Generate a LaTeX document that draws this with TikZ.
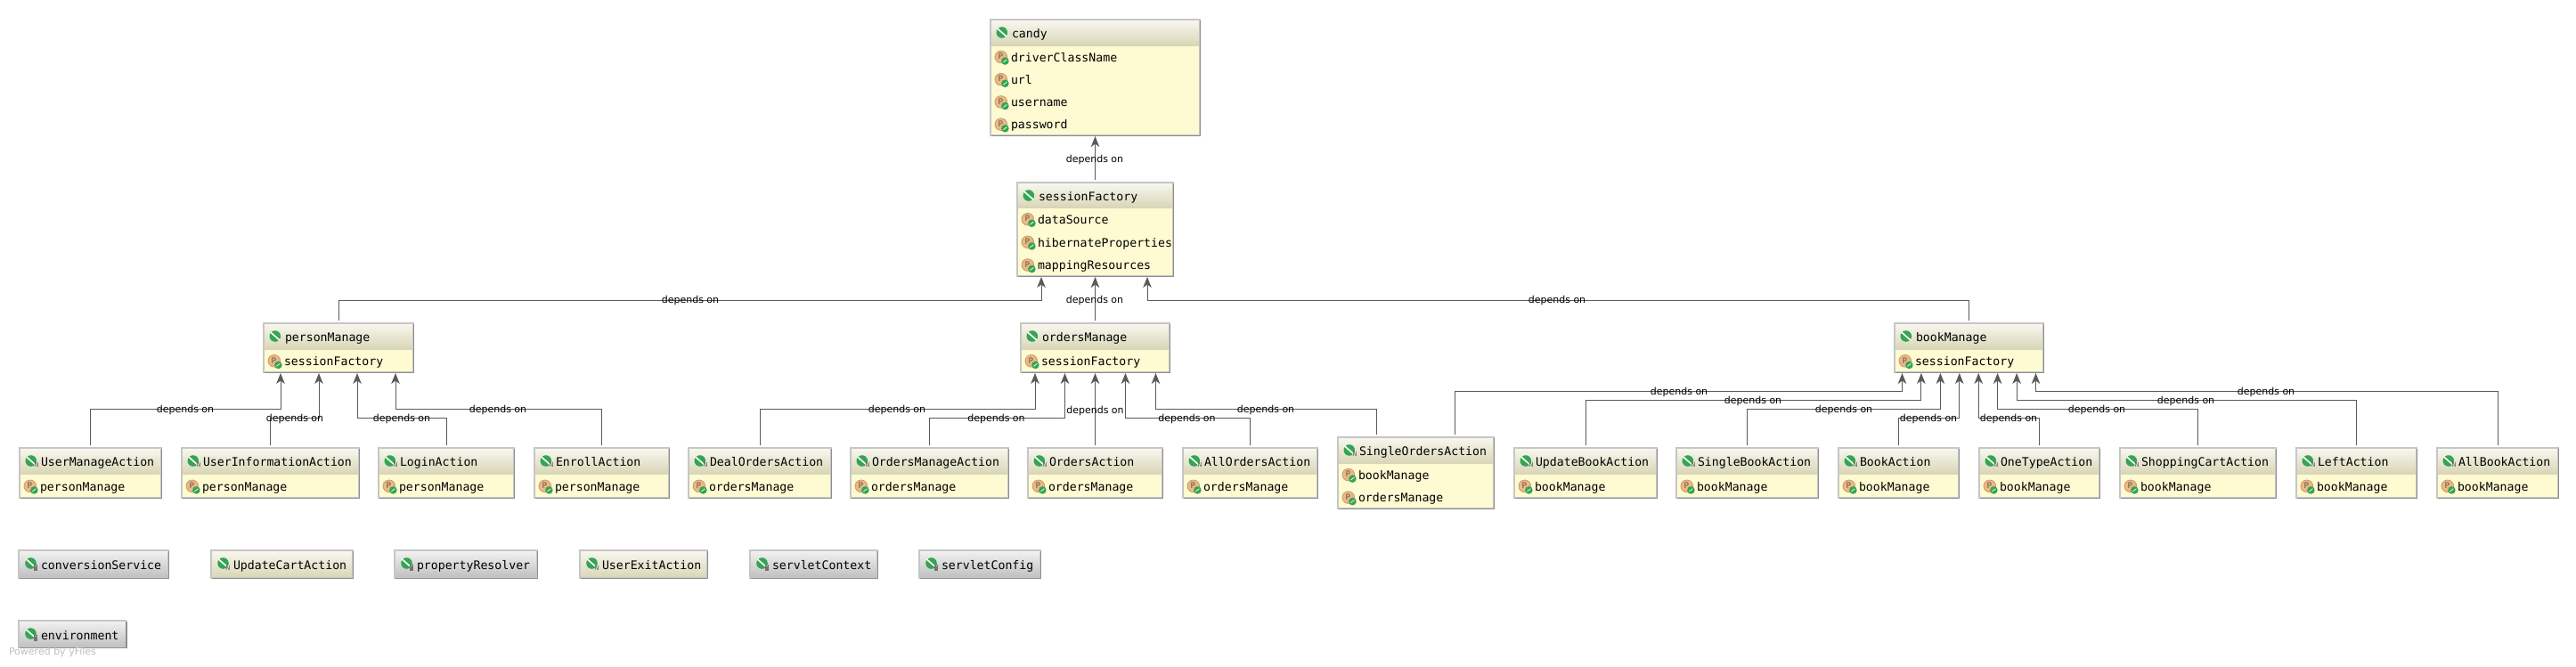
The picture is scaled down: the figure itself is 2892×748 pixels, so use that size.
\documentclass[tikz,border=0pt]{standalone}
\usepackage{fontspec}
\setmainfont{DejaVu Sans}
\newfontfamily\beanfont{DejaVu Sans Mono}
\usetikzlibrary{arrows.meta,calc}
\definecolor{bodycol}{HTML}{FEFAD2}
\definecolor{headtop}{HTML}{F8F8F0}
\definecolor{headbot}{HTML}{D9D6B6}
\definecolor{edgecol}{HTML}{C6C6C6}
\definecolor{shadecol}{HTML}{8E8E8E}
\definecolor{linecol}{HTML}{5A5A5A}
\definecolor{leaf}{HTML}{35A453}
\definecolor{orangeic}{HTML}{EDB882}
\definecolor{orangeed}{HTML}{C79A6C}
\tikzset{
  boxnode/.style={rectangle,draw=edgecol,line width=1.2pt,fill=bodycol,inner sep=0pt,outer sep=0pt,anchor=north west},
  beantext/.style={inner sep=0pt,outer sep=0pt,anchor=base west,font=\beanfont\fontsize{13.2}{15}\selectfont},
  dep/.style={draw=linecol,line width=1pt,shorten <=3pt,-{Stealth[length=12pt,width=9.5pt,inset=3.5pt]}},
  lab/.style={inner sep=0pt,outer sep=0pt,font=\fontsize{11}{13}\selectfont},
  letter/.style={inner sep=0pt,outer sep=0pt,text=black!65,font=\fontsize{#1}{#1}\selectfont}
}
% title icon: x y
\newcommand{\leaficon}[2]{%
  \fill[leaf] (#1,#2) circle[radius=6.3pt];
  \draw[white,line width=1.6pt] ($(#1,#2)+(-5,-4.4)$) -- ($(#1,#2)+(5,4.4)$);
}
% property icon: name x y
\newcommand{\propicon}[3]{%
  \fill[orangeic,draw=orangeed,line width=.8pt] (#2,#3) circle[radius=6.8pt];
  \node[letter=9] (#1) at ($(#2,#3)+(-.5,-.5)$) {P};
  \fill[leaf] ($(#2,#3)+(4.6,4.6)$) circle[radius=4.3pt];
  \draw[white,line width=.7pt] ($(#2,#3)+(2.6,6)$) -- ($(#2,#3)+(6.6,3)$);
}
% name x1 x2 y1 yh y2 title mark rows
\newcommand{\bean}[9]{%
  \node[boxnode,minimum width={(#3-#2)*1pt},minimum height={(#6-#4)*1pt}] (#1) at (#2,#4) {};
  \shade[top color=headtop,bottom color=headbot] (#2,#4) rectangle (#3,#5);
  \draw[edgecol,line width=1.2pt] (#1.north west) rectangle (#1.south east);
  \draw[shadecol,line width=1.4pt] (#3+.4,#4+1) -- (#3+.4,#6+.4) -- (#2+1,#6+.4);
  \pgfmathsetmacro{\tx}{#2+24}\pgfmathsetmacro{\ty}{#4+20.7}
  \pgfmathsetmacro{\ix}{#2+12.8}\pgfmathsetmacro{\iy}{#4+14.5}
  \leaficon{\ix}{\iy}
  \ifx\relax#8\relax\else
    \pgfmathsetmacro{\nx}{\ix+6.2}\pgfmathsetmacro{\ny}{\iy+4.6}
    \node[letter=7] (#1-mark) at (\nx,\ny) {#8};
  \fi
  \node[beantext] (#1-title) at (\tx,\ty) {#7};
  \foreach \t [count=\i] in {#9}{\xdef\nrows{\i}}
  \pgfmathsetmacro{\rowh}{(#6-#5)/\nrows}
  \foreach \t [count=\i] in {#9}{
    \pgfmathsetmacro{\rc}{#5+(\i-.5)*\rowh}
    \pgfmathsetmacro{\rb}{\rc+5.5}
    \pgfmathsetmacro{\ric}{\rc+.3}
    \pgfmathsetmacro{\px}{#2+11.8}\pgfmathsetmacro{\rx}{#2+23}
    \propicon{#1-p\i}{\px}{\ric}
    \node[beantext] (#1-r\i) at (\rx,\rb) {\t};
  }
}
% name x1 x2 y1 y2 title topcolor botcolor kind(N or L)
\newcommand{\plainbean}[9]{%
  \node[boxnode,minimum width={(#3-#2)*1pt},minimum height={(#5-#4)*1pt}] (#1) at (#2,#4) {};
  \shade[top color=#7,bottom color=#8] (#2,#4) rectangle (#3,#5);
  \draw[edgecol,line width=1.2pt] (#1.north west) rectangle (#1.south east);
  \draw[shadecol,line width=1.4pt] (#3+.4,#4+1) -- (#3+.4,#5+.4) -- (#2+1,#5+.4);
  \pgfmathsetmacro{\tx}{#2+25}\pgfmathsetmacro{\ty}{#4+21.2}
  \pgfmathsetmacro{\ix}{#2+13.5}\pgfmathsetmacro{\iy}{#4+14.5}
  \leaficon{\ix}{\iy}
  \pgfmathsetmacro{\nx}{\ix+5.6}\pgfmathsetmacro{\ny}{\iy+5}
  \if N#9
    \node[letter=7] (#1-mark) at (\nx,\ny) {N};
  \else
    \fill[black!55] ($(\nx,\ny)+(-2.3,-1.6)$) rectangle ($(\nx,\ny)+(2.3,3)$);
    \draw[black!55,line width=.7pt] ($(\nx,\ny)+(-1.4,-1.6)$) -- ($(\nx,\ny)+(-1.4,-3)$) -- ($(\nx,\ny)+(1.4,-3)$) -- ($(\nx,\ny)+(1.4,-1.6)$);
  \fi
  \node[beantext] (#1-title) at (\tx,\ty) {#6};
}
\begin{document}
\begin{tikzpicture}[x=1pt,y=-1pt]
\useasboundingbox (0,0) rectangle (2892,748);
\fill[white] (0,0) rectangle (2892,748);
\coordinate (lv337) at (0,337);
\coordinate (lv439) at (0,439);
\coordinate (lv449) at (0,449);
\coordinate (lv459) at (0,459);
\coordinate (lv469) at (0,469);
% boxes
\bean{candy}{1112}{1347}{22}{51}{152}{candy}{}{driverClassName,url,username,password}
\bean{sf}{1142}{1317}{205}{233}{310}{sessionFactory}{}{dataSource,hibernateProperties,mappingResources}
\bean{pm}{296}{464}{363}{392}{418}{personManage}{}{sessionFactory}
\bean{om}{1146}{1313}{363}{392}{418}{ordersManage}{}{sessionFactory}
\bean{bm}{2127}{2294}{363}{392}{418}{bookManage}{}{sessionFactory}
\bean{uma}{22}{181}{503}{532}{559}{UserManageAction}{N}{personManage}
\bean{uia}{204}{403}{503}{532}{559}{UserInformationAction}{N}{personManage}
\bean{la}{425}{577}{503}{532}{559}{LoginAction}{N}{personManage}
\bean{ea}{600}{751}{503}{532}{559}{EnrollAction}{N}{personManage}
\bean{doa}{773}{933}{503}{532}{559}{DealOrdersAction}{N}{ordersManage}
\bean{oma}{955}{1132}{503}{532}{559}{OrdersManageAction}{N}{ordersManage}
\bean{oa}{1154}{1305}{503}{532}{559}{OrdersAction}{N}{ordersManage}
\bean{aoa}{1328}{1479}{503}{532}{559}{AllOrdersAction}{N}{ordersManage}
\bean{soa}{1502}{1677}{491}{520}{571}{SingleOrdersAction}{N}{bookManage,ordersManage}
\bean{uba}{1700}{1860}{503}{532}{559}{UpdateBookAction}{N}{bookManage}
\bean{sba}{1882}{2041}{503}{532}{559}{SingleBookAction}{N}{bookManage}
\bean{ba}{2064}{2199}{503}{532}{559}{BookAction}{N}{bookManage}
\bean{ota}{2222}{2357}{503}{532}{559}{OneTypeAction}{N}{bookManage}
\bean{sca}{2380}{2555}{503}{532}{559}{ShoppingCartAction}{N}{bookManage}
\bean{lfa}{2578}{2713}{503}{532}{559}{LeftAction}{N}{bookManage}
\bean{aba}{2736}{2872}{503}{532}{559}{AllBookAction}{N}{bookManage}
\plainbean{cs}{21}{189}{618}{649}{conversionService}{white!95!black}{black!25}{L}
\plainbean{uca}{237}{396}{618}{649}{UpdateCartAction}{headtop}{headbot}{N}
\plainbean{pr}{443}{603}{618}{649}{propertyResolver}{white!95!black}{black!25}{L}
\plainbean{uxa}{651}{794}{618}{649}{UserExitAction}{headtop}{headbot}{N}
\plainbean{sc}{842}{985}{618}{649}{servletContext}{white!95!black}{black!25}{L}
\plainbean{scf}{1032}{1168}{618}{649}{servletConfig}{white!95!black}{black!25}{L}
\plainbean{env}{21}{141.5}{697}{727}{environment}{white!95!black}{black!25}{L}
% connectors
\draw[dep] (sf.north) -- ([yshift=-1pt]candy.south);
\draw[dep] (pm.north) -- (pm.north |- lv337) -| ([xshift=-60.5pt,yshift=-1pt]sf.south);
\draw[dep] (om.north) -- ([yshift=-1pt]sf.south);
\draw[dep] (bm.north) -- (bm.north |- lv337) -| ([xshift=58.5pt,yshift=-1pt]sf.south);
\draw[dep] (uma.north) -- (uma.north |- lv459) -| ([xshift=-65pt,yshift=-1pt]pm.south);
\draw[dep] (uia.north) -- (uia.north |- lv469) -| ([xshift=-22pt,yshift=-1pt]pm.south);
\draw[dep] (la.north) -- (la.north |- lv469) -| ([xshift=21pt,yshift=-1pt]pm.south);
\draw[dep] (ea.north) -- (ea.north |- lv459) -| ([xshift=64pt,yshift=-1pt]pm.south);
\draw[dep] (doa.north) -- (doa.north |- lv459) -| ([xshift=-67.5pt,yshift=-1pt]om.south);
\draw[dep] (oma.north) -- (oma.north |- lv469) -| ([xshift=-34pt,yshift=-1pt]om.south);
\draw[dep] (oa.north) -- ([yshift=-1pt,xshift=0pt]om.south);
\draw[dep] (aoa.north) -- (aoa.north |- lv469) -| ([xshift=34pt,yshift=-1pt]om.south);
\draw[dep] ([xshift=-44.5pt]soa.north) -- ([xshift=-44.5pt]soa.north |- lv459) -| ([xshift=68pt,yshift=-1pt]om.south);
\draw[dep] ([xshift=44pt]soa.north) -- ([xshift=44pt]soa.north |- lv439) -| ([xshift=-75pt,yshift=-1pt]bm.south);
\draw[dep] (uba.north) -- (uba.north |- lv449) -| ([xshift=-53.6pt,yshift=-1pt]bm.south);
\draw[dep] (sba.north) -- (sba.north |- lv459) -| ([xshift=-32.1pt,yshift=-1pt]bm.south);
\draw[dep] (ba.north) -- (ba.north |- lv469) -| ([xshift=-10.7pt,yshift=-1pt]bm.south);
\draw[dep] (ota.north) -- (ota.north |- lv469) -| ([xshift=10.7pt,yshift=-1pt]bm.south);
\draw[dep] (sca.north) -- (sca.north |- lv459) -| ([xshift=32.1pt,yshift=-1pt]bm.south);
\draw[dep] (lfa.north) -- (lfa.north |- lv449) -| ([xshift=53.6pt,yshift=-1pt]bm.south);
\draw[dep] (aba.north) -- (aba.north |- lv439) -| ([xshift=75pt,yshift=-1pt]bm.south);
% labels
\node[lab] (l1) at (1229,179.5) {depends on};
\node[lab] (l2) at (775,337.5) {depends on};
\node[lab] (l3) at (1229,337.5) {depends on};
\node[lab] (l4) at (1748,337.5) {depends on};
\node[lab] (l5) at (208,460.5) {depends on};
\node[lab] (l6) at (331,470.5) {depends on};
\node[lab] (l7) at (451,470.5) {depends on};
\node[lab] (l8) at (559,460.5) {depends on};
\node[lab] (l9) at (1007,460.5) {depends on};
\node[lab] (l10) at (1118.5,470.5) {depends on};
\node[lab] (l11) at (1229.5,461.5) {depends on};
\node[lab] (l12) at (1332.5,470.5) {depends on};
\node[lab] (l13) at (1421,460.5) {depends on};
\node[lab] (l14) at (1885,440.5) {depends on};
\node[lab] (l15) at (1968,450.5) {depends on};
\node[lab] (l16) at (2070,460.5) {depends on};
\node[lab] (l17) at (2165,470.5) {depends on};
\node[lab] (l18) at (2255,470.5) {depends on};
\node[lab] (l19) at (2354,460.5) {depends on};
\node[lab] (l20) at (2454,450.5) {depends on};
\node[lab] (l21) at (2544,440.5) {depends on};
\node[lab,text=black!25,anchor=west] (yf) at (10,732.5) {Powered by yFiles};
\end{tikzpicture}
\end{document}
